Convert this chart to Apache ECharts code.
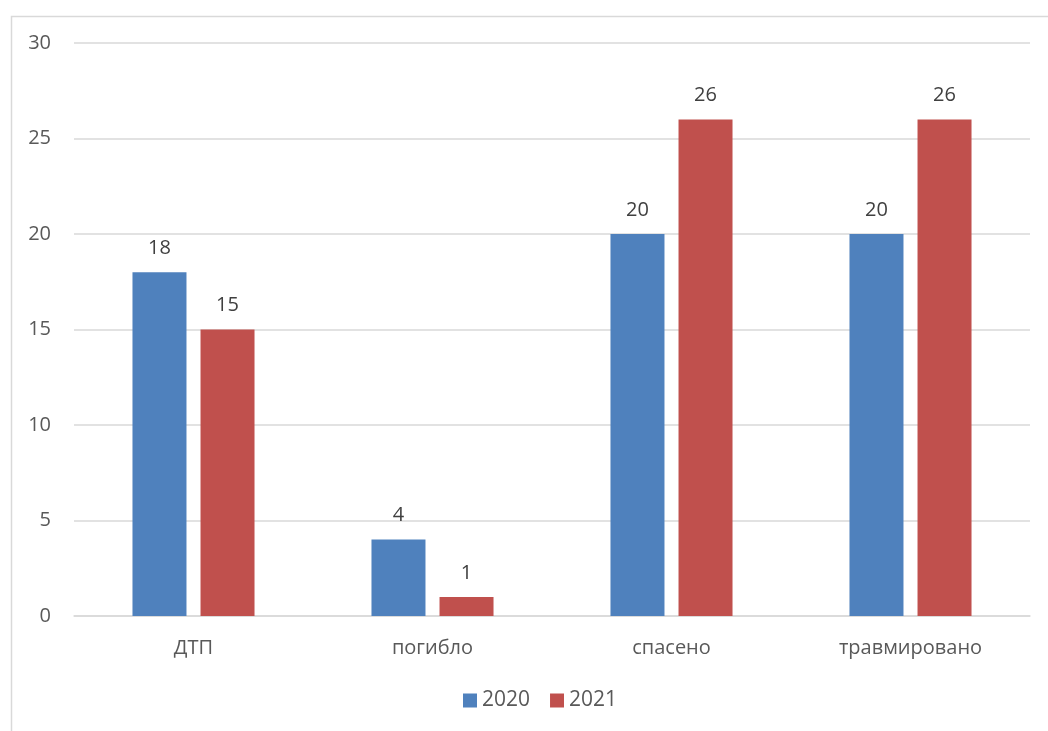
<!DOCTYPE html>
<html><head><meta charset="utf-8">
<script src="https://cdn.jsdelivr.net/npm/echarts@6/dist/echarts.min.js"></script>
<style>html,body{margin:0;padding:0;background:#fff}#c{width:1048px;height:731px}</style>
</head><body><div id="c"></div>
<script>
const categories = ['ДТП', 'погибло', 'спасено', 'травмировано'];
const series2020 = [18, 4, 20, 20];
const series2021 = [15, 1, 26, 26];
const seriesNames = ['2020', '2021'];

const chart = echarts.init(document.getElementById('c'));
const font = 'Open Sans, Liberation Sans, sans-serif';
chart.setOption({
  animation: false,
  textStyle: { fontFamily: font },
  graphic: [{
    type: 'rect', left: 9, top: 14,
    shape: { width: 1100, height: 800 },
    style: { fill: 'none', stroke: '#d9d9d9', lineWidth: 1.5 },
    silent: true, z: -1
  }],
  grid: { left: 74, right: 18, top: 43, bottom: 115, containLabel: false },
  legend: {
    data: seriesNames, bottom: 15, left: 458,
    itemWidth: 14, itemHeight: 14, itemGap: 20,
    icon: 'rect',
    textStyle: { fontSize: 21, color: '#595959', fontFamily: font }
  },
  xAxis: {
    type: 'category', data: categories,
    axisLine: { show: true, lineStyle: { color: '#d9d9d9', width: 1.5 } },
    axisTick: { show: false },
    axisLabel: { fontSize: 20, color: '#595959', margin: 22, fontFamily: font }
  },
  yAxis: {
    type: 'value', min: 0, max: 30, interval: 5,
    axisLine: { show: false }, axisTick: { show: false },
    axisLabel: { fontSize: 20, color: '#595959', margin: 23, fontFamily: font },
    splitLine: { lineStyle: { color: '#d9d9d9', width: 1.5 } }
  },
  series: [
    { name: seriesNames[0], type: 'bar', data: series2020, barWidth: 54, barGap: '26%',
      itemStyle: { color: '#4F81BD' },
      label: { show: true, position: 'top', fontSize: 20, color: '#404040', distance: 14, fontFamily: font } },
    { name: seriesNames[1], type: 'bar', data: series2021, barWidth: 54,
      itemStyle: { color: '#C0504D' },
      label: { show: true, position: 'top', fontSize: 20, color: '#404040', distance: 14, fontFamily: font } }
  ]
});
</script></body></html>
